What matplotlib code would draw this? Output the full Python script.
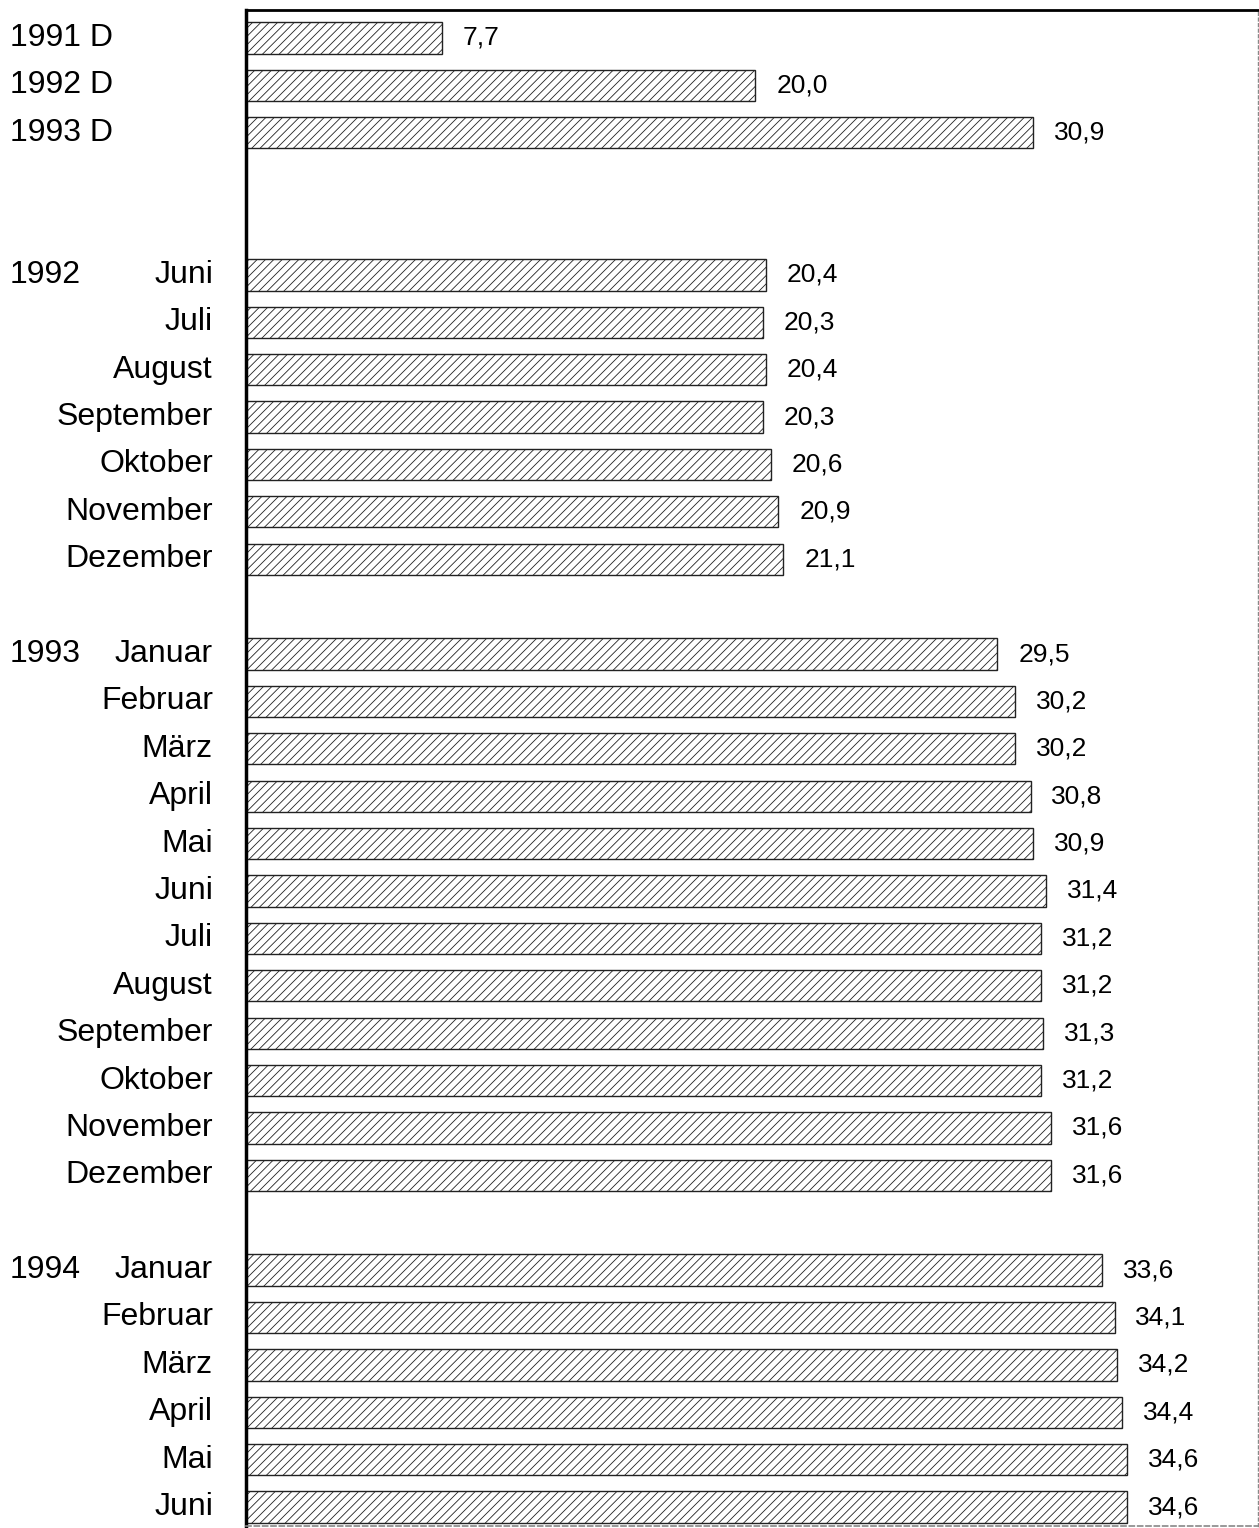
import matplotlib
matplotlib.use("Agg")
import matplotlib.pyplot as plt
from matplotlib.transforms import blended_transform_factory

plt.rcParams['font.family'] = ['Liberation Sans', 'DejaVu Sans']
plt.rcParams['hatch.linewidth'] = 0.6

# ---- data ----
summary_labels = ["1991 D", "1992 D", "1993 D"]
summary_values = [7.7, 20.0, 30.9]

year_1992 = "1992"
months_1992 = ["Juni", "Juli", "August", "September", "Oktober", "November", "Dezember"]
values_1992 = [20.4, 20.3, 20.4, 20.3, 20.6, 20.9, 21.1]

year_1993 = "1993"
months_1993 = ["Januar", "Februar", "März", "April", "Mai", "Juni", "Juli",
               "August", "September", "Oktober", "November", "Dezember"]
values_1993 = [29.5, 30.2, 30.2, 30.8, 30.9, 31.4, 31.2, 31.2, 31.3, 31.2, 31.6, 31.6]

year_1994 = "1994"
months_1994 = ["Januar", "Februar", "März", "April", "Mai", "Juni"]
values_1994 = [33.6, 34.1, 34.2, 34.4, 34.6, 34.6]

# ---- layout of rows ----
W, H = 1259, 1528
fig = plt.figure(figsize=(W / 100, H / 100), dpi=100)
ax = fig.add_axes([246 / W, (H - 1526) / H, (1258 - 246) / W, (1526 - 10) / H])

rows = []  # (pos, value, left_text, right_text)
pos = 0
for lab, v in zip(summary_labels, summary_values):
    rows.append((pos, v, lab, ""))
    pos += 1
pos += 2
for year, months, vals in [(year_1992, months_1992, values_1992),
                           (year_1993, months_1993, values_1993),
                           (year_1994, months_1994, values_1994)]:
    for i, (m, v) in enumerate(zip(months, vals)):
        rows.append((pos, v, year if i == 0 else "", m))
        pos += 1
    pos += 1

ys = [r[0] for r in rows]
vs = [r[1] for r in rows]
ax.barh(ys, vs, height=0.66, color="white", edgecolor="#222222",
        linewidth=1.0, hatch="////", zorder=2)

fs_lab = 23
fs_val = 19
for y, v, lt, rt in rows:
    ax.annotate(f"{v:.1f}".replace(".", ","), xy=(v, y), xytext=(15, 0),
                textcoords="offset points", ha="left", va="center",
                fontsize=fs_val, color="black")

tr = blended_transform_factory(fig.transFigure, ax.transData)
for y, v, lt, rt in rows:
    if lt:
        ax.text(10 / W, y, lt, transform=tr, ha="left", va="center",
                fontsize=fs_lab, color="black")
    if rt:
        ax.text(213 / W, y, rt, transform=tr, ha="right", va="center",
                fontsize=fs_lab, color="black")

ax.set_xlim(0, 39.73)
ax.set_ylim(31.4, -0.59)
ax.set_xticks([])
ax.set_yticks([])

ax.spines['left'].set_linewidth(2.5)
ax.spines['left'].set_color("black")
ax.spines['top'].set_linewidth(2.0)
ax.spines['top'].set_color("black")
ax.spines['right'].set_linewidth(1.0)
ax.spines['right'].set_color("#888888")
ax.spines['right'].set_linestyle((0, (2, 2)))
ax.spines['bottom'].set_linewidth(1.2)
ax.spines['bottom'].set_color("#888888")
ax.spines['bottom'].set_linestyle((0, (3, 2)))

fig.savefig("out.png", dpi=100, facecolor="white")
